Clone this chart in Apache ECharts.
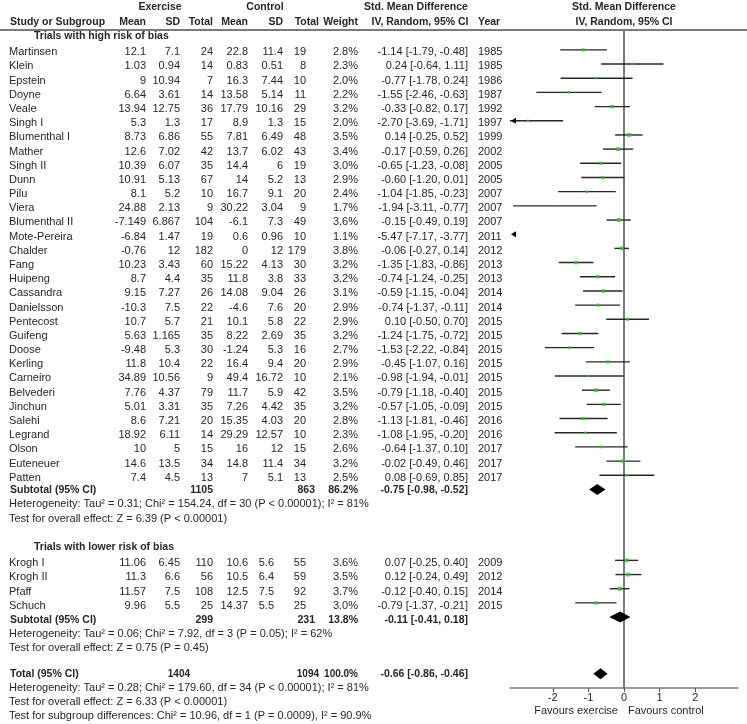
<!DOCTYPE html>
<html>
<head>
<meta charset="utf-8">
<script src="https://cdn.jsdelivr.net/npm/echarts@6/dist/echarts.min.js"></script>
<style>
html,body{margin:0;padding:0;background:#fff;}
#chart{width:747px;height:724px;}
</style>
</head>
<body>
<div id="chart"></div>
<script>
// ---------- DATA ----------
const highNames = ["Martinsen","Klein","Epstein","Doyne","Veale","Singh I","Blumenthal I","Mather","Singh II","Dunn","Pilu","Viera","Blumenthal II","Mote-Pereira","Chalder","Fang","Huipeng","Cassandra","Danielsson","Pentecost","Guifeng","Doose","Kerling","Carneiro","Belvederi","Jinchun","Salehi","Legrand","Olson","Euteneuer","Patten"];
const highExMean = [12.1,1.03,9,6.64,13.94,5.3,8.73,12.6,10.39,10.91,8.1,24.88,-7.149,-6.84,-0.76,10.23,8.7,9.15,-10.3,10.7,5.63,-9.48,11.8,34.89,7.76,5.01,8.6,18.92,10,14.6,7.4];
const highExSD = [7.1,0.94,10.94,3.61,12.75,1.3,6.86,7.02,6.07,5.13,5.2,2.13,6.867,1.47,12,3.43,4.4,7.27,7.5,5.7,1.165,5.3,10.4,10.56,4.37,3.31,7.21,6.11,5,13.5,4.5];
const highExN = [24,14,7,14,36,17,55,42,35,67,10,9,104,19,182,60,35,26,22,21,35,30,22,9,79,35,20,14,15,34,13];
const highCtMean = [22.8,0.83,16.3,13.58,17.79,8.9,7.81,13.7,14.4,14,16.7,30.22,-6.1,0.6,0,15.22,11.8,14.08,-4.6,10.1,8.22,-1.24,16.4,49.4,11.7,7.26,15.35,29.29,16,14.8,7];
const highCtSD = [11.4,0.51,7.44,5.14,10.16,1.3,6.49,6.02,6,5.2,9.1,3.04,7.3,0.96,12,4.13,3.8,9.04,7.6,5.8,2.69,5.3,9.4,16.72,5.9,4.42,4.03,12.57,12,11.4,5.1];
const highCtN = [19,8,10,11,29,15,48,43,19,13,20,9,49,10,179,30,33,26,20,22,35,16,20,10,42,35,20,10,15,34,13];
const highWeight = [2.8,2.3,2.0,2.2,3.2,2.0,3.5,3.4,3.0,2.9,2.4,1.7,3.6,1.1,3.8,3.2,3.2,3.1,2.9,2.9,3.2,2.7,2.9,2.1,3.5,3.2,2.8,2.3,2.6,3.2,2.5];
const highSMD = [-1.14,0.24,-0.77,-1.55,-0.33,-2.70,0.14,-0.17,-0.65,-0.60,-1.04,-1.94,-0.15,-5.47,-0.06,-1.35,-0.74,-0.59,-0.74,0.10,-1.24,-1.53,-0.45,-0.98,-0.79,-0.57,-1.13,-1.08,-0.64,-0.02,0.08];
const highLo = [-1.79,-0.64,-1.78,-2.46,-0.82,-3.69,-0.25,-0.59,-1.23,-1.20,-1.85,-3.11,-0.49,-7.17,-0.27,-1.83,-1.24,-1.15,-1.37,-0.50,-1.75,-2.22,-1.07,-1.94,-1.18,-1.05,-1.81,-1.95,-1.37,-0.49,-0.69];
const highHi = [-0.48,1.11,0.24,-0.63,0.17,-1.71,0.52,0.26,-0.08,0.01,-0.23,-0.77,0.19,-3.77,0.14,-0.86,-0.25,-0.04,-0.11,0.70,-0.72,-0.84,0.16,-0.01,-0.40,-0.09,-0.46,-0.20,0.10,0.46,0.85];
const highYear = [1985,1985,1986,1987,1992,1997,1999,2002,2005,2005,2007,2007,2007,2011,2012,2013,2013,2014,2014,2015,2015,2015,2015,2015,2015,2015,2016,2016,2017,2017,2017];

const lowNames = ["Krogh I","Krogh II","Pfaff","Schuch"];
const lowExMean = [11.06,11.3,11.57,9.96];
const lowExSD = [6.45,6.6,7.5,5.5];
const lowExN = [110,56,108,25];
const lowCtMean = [10.6,10.5,12.5,14.37];
const lowCtSD = [5.6,6.4,7.5,5.5];
const lowCtN = [55,59,92,25];
const lowWeight = [3.6,3.5,3.7,3.0];
const lowSMD = [0.07,0.12,-0.12,-0.79];
const lowLo = [-0.25,-0.24,-0.40,-1.37];
const lowHi = [0.40,0.49,0.15,-0.21];
const lowYear = [2009,2012,2014,2015];

// summaries: [estimate, lower, upper]
const summaryLabels = ["Subtotal (95% CI)","Subtotal (95% CI)","Total (95% CI)"];
const summaryEst = [-0.75,-0.11,-0.66];
const summaryLo = [-0.98,-0.41,-0.86];
const summaryHi = [-0.52,0.18,-0.46];
const summaryExN = [1105,299,1404];
const summaryCtN = [863,231,1094];
const summaryWeight = ["86.2%","13.8%","100.0%"];

const groupTitles = ["Trials with high risk of bias","Trials with lower risk of bias"];
const statsHigh = ["Heterogeneity: Tau\u00b2 = 0.31; Chi\u00b2 = 154.24, df = 30 (P < 0.00001); I\u00b2 = 81%","Test for overall effect: Z = 6.39 (P < 0.00001)"];
const statsLow = ["Heterogeneity: Tau\u00b2 = 0.06; Chi\u00b2 = 7.92, df = 3 (P = 0.05); I\u00b2 = 62%","Test for overall effect: Z = 0.75 (P = 0.45)"];
const statsTotal = ["Heterogeneity: Tau\u00b2 = 0.28; Chi\u00b2 = 179.60, df = 34 (P < 0.00001); I\u00b2 = 81%","Test for overall effect: Z = 6.33 (P < 0.00001)","Test for subgroup differences: Chi\u00b2 = 10.96, df = 1 (P = 0.0009), I\u00b2 = 90.9%"];

const xTicks = [-2,-1,0,1,2];
const xLabels = ["Favours exercise","Favours control"];

// ---------- LAYOUT ----------
const X_MIN = -3.2, X_MAX = 3.2;
const highRows = highNames.map((_, i) => i);          // 0..30
const sub1Row = 31;
const lowRows = lowNames.map((_, i) => 36 + i);       // 36..39
const sub2Row = 40;
const totalRow = 44;
const summaryRows = [sub1Row, sub2Row, totalRow];

const FONT = '"Liberation Sans", Arial, Helvetica, sans-serif';
const TXT = '#262626';

const ciData = [];
const ptData = [];
highNames.forEach((n, i) => { ciData.push([highLo[i], highHi[i], highRows[i]]); ptData.push([highSMD[i], highRows[i], highWeight[i]]); });
lowNames.forEach((n, i) => { ciData.push([lowLo[i], lowHi[i], lowRows[i]]); ptData.push([lowSMD[i], lowRows[i], lowWeight[i]]); });
const diaData = summaryEst.map((e, i) => [e, summaryLo[i], summaryHi[i], summaryRows[i]]);

const chart = echarts.init(document.getElementById('chart'), null, {renderer: 'canvas'});

const option = {
  animation: false,
  backgroundColor: '#fff',
  grid: {left: 510, top: 30, width: 228, height: 658},
  xAxis: {
    type: 'value', min: X_MIN, max: X_MAX,
    splitLine: {show: false},
    axisLine: {show: true, onZero: false, lineStyle: {color: '#7a7a7a', width: 1.5}},
    axisTick: {show: true, customValues: xTicks, length: 4, lineStyle: {color: '#555', width: 1}},
    axisLabel: {customValues: xTicks, color: TXT, fontSize: 11, fontFamily: FONT, margin: 4}
  },
  yAxis: {
    type: 'value', inverse: true, min: -1.4, max: 45,
    splitLine: {show: false},
    axisLine: {show: true, onZero: true, lineStyle: {color: '#7a7a7a', width: 2}},
    axisTick: {show: false},
    axisLabel: {show: false}
  },
  series: [
    {
      type: 'custom', name: 'ci', clip: false, z: 2,
      encode: {x: [0, 1], y: 2},
      data: ciData,
      renderItem: function (params, api) {
        const lo = api.value(0), hi = api.value(1), row = api.value(2);
        const y = api.coord([0, row])[1];
        const children = [];
        const a = Math.max(lo, X_MIN), b = Math.min(hi, X_MAX);
        if (a < b) {
          const p1 = api.coord([a, row]), p2 = api.coord([b, row]);
          children.push({type: 'line', shape: {x1: p1[0], y1: y, x2: p2[0], y2: y}, style: {stroke: '#262626', lineWidth: 1.4}});
        }
        if (lo < X_MIN) {
          const px = api.coord([X_MIN, row])[0] + 1;
          children.push({type: 'polygon', shape: {points: [[px, y], [px + 5, y - 3], [px + 5, y + 3]]}, style: {fill: '#000'}});
        }
        if (hi > X_MAX) {
          const px = api.coord([X_MAX, row])[0] - 1;
          children.push({type: 'polygon', shape: {points: [[px, y], [px - 5, y - 3], [px - 5, y + 3]]}, style: {fill: '#000'}});
        }
        return {type: 'group', children: children};
      }
    },
    {
      type: 'scatter', name: 'smd', clip: true, z: 3,
      symbol: 'rect',
      symbolSize: function (v) { return Math.max(2, v[2] * 1.1); },
      itemStyle: {color: '#2fc42f'},
      data: ptData
    },
    {
      type: 'custom', name: 'diamond', clip: false, z: 4,
      encode: {x: [0, 1, 2], y: 3},
      data: diaData,
      renderItem: function (params, api) {
        const e = api.value(0), lo = api.value(1), hi = api.value(2), row = api.value(3);
        const pe = api.coord([e, row]), pl = api.coord([lo, row]), ph = api.coord([hi, row]);
        const h = 5.5;
        return {type: 'polygon', shape: {points: [[pl[0], pl[1]], [pe[0], pe[1] - h], [ph[0], ph[1]], [pe[0], pe[1] + h]]}, style: {fill: '#000'}};
      }
    }
  ]
};
chart.setOption(option);

// ---------- TABLE TEXT ----------
const rowPx = r => chart.convertToPixel({yAxisIndex: 0}, r);
const xPx = v => chart.convertToPixel({xAxisIndex: 0}, v);
const G = [];
function T(x, y, s, align, bold, size) {
  const fs = size || (bold ? 10.5 : 11);
  G.push({
    type: 'text', x: x, y: y, silent: true,
    style: {
      text: String(s), fill: TXT,
      font: (bold ? 'bold ' : '') + fs + 'px ' + FONT,
      align: align || 'left', textAlign: align || 'left',
      verticalAlign: 'middle', textVerticalAlign: 'middle'
    }
  });
}
const C = {name: 9, exMean: 146, exSD: 180, exN: 213, ctMean: 248, ctSD: 283, ctN: 306, w: 358, ci: 468, year: 478};
const ciStr = (e, l, h) => e.toFixed(2) + ' [' + l.toFixed(2) + ', ' + h.toFixed(2) + ']';

// header
const yH1 = rowPx(-3.03), yH2 = rowPx(-1.95);
T(160, yH1, 'Exercise', 'center', true);
T(265, yH1, 'Control', 'center', true);
T(416, yH1, 'Std. Mean Difference', 'center', true);
T(624, yH1, 'Std. Mean Difference', 'center', true);
T(10, yH2, 'Study or Subgroup', 'left', true);
T(C.exMean, yH2, 'Mean', 'right', true);
T(C.exSD, yH2, 'SD', 'right', true);
T(C.exN, yH2, 'Total', 'right', true);
T(C.ctMean, yH2, 'Mean', 'right', true);
T(C.ctSD, yH2, 'SD', 'right', true);
T(319, yH2, 'Total', 'right', true);
T(C.w, yH2, 'Weight', 'right', true);
T(420, yH2, 'IV, Random, 95% CI', 'center', true);
T(C.year, yH2, 'Year', 'left', true);
T(624, yH2, 'IV, Random, 95% CI', 'center', true);
G.push({type: 'line', silent: true, shape: {x1: 0, y1: rowPx(-1.4), x2: 747, y2: rowPx(-1.4)}, style: {stroke: '#7a7a7a', lineWidth: 2}});

// group 1
T(34, rowPx(-0.98), groupTitles[0], 'left', true);
highNames.forEach((n, i) => {
  const y = rowPx(highRows[i] + 0.17);
  T(C.name, y, n);
  T(C.exMean, y, highExMean[i], 'right');
  T(C.exSD, y, highExSD[i], 'right');
  T(C.exN, y, highExN[i], 'right');
  T(C.ctMean, y, highCtMean[i], 'right');
  T(C.ctSD, y, highCtSD[i], 'right');
  T(C.ctN, y, highCtN[i], 'right');
  T(C.w, y, highWeight[i].toFixed(1) + '%', 'right');
  T(C.ci, y, ciStr(highSMD[i], highLo[i], highHi[i]), 'right');
  T(C.year, y, highYear[i]);
});
function summaryRowText(k, yRow, nxRight, ncRight, numSize) {
  const y = rowPx(yRow);
  T(10, y, summaryLabels[k], 'left', true);
  T(nxRight, y, summaryExN[k], 'right', true, numSize);
  T(ncRight, y, summaryCtN[k], 'right', true, numSize);
  T(C.w, y, summaryWeight[k], 'right', true, numSize);
  T(C.ci, y, ciStr(summaryEst[k], summaryLo[k], summaryHi[k]), 'right', true);
}
summaryRowText(0, sub1Row + 0.08, 213, 315);
T(C.name, rowPx(32.05), statsHigh[0]);
T(C.name, rowPx(33.05), statsHigh[1]);

// group 2
T(34, rowPx(35.05), groupTitles[1], 'left', true);
lowNames.forEach((n, i) => {
  const y = rowPx(lowRows[i] + 0.2);
  T(C.name, y, n);
  T(C.exMean, y, lowExMean[i], 'right');
  T(C.exSD, y, lowExSD[i], 'right');
  T(C.exN, y, lowExN[i], 'right');
  T(C.ctMean, y, lowCtMean[i], 'right');
  T(274, y, lowCtSD[i], 'right');
  T(C.ctN, y, lowCtN[i], 'right');
  T(C.w, y, lowWeight[i].toFixed(1) + '%', 'right');
  T(C.ci, y, ciStr(lowSMD[i], lowLo[i], lowHi[i]), 'right');
  T(C.year, y, lowYear[i]);
});
summaryRowText(1, sub2Row + 0.2, 213, 315);
T(C.name, rowPx(41.2), statsLow[0]);
T(C.name, rowPx(42.2), statsLow[1]);

// total
summaryRowText(2, totalRow, 190, 319, 10);
T(C.name, rowPx(45.0), statsTotal[0]);
T(C.name, rowPx(45.95), statsTotal[1]);
T(C.name, rowPx(46.97), statsTotal[2]);

// favours labels
const yFav = rowPx(45) + 23;
T(xPx(-0.17), yFav, xLabels[0], 'right');
T(xPx(0.11), yFav, xLabels[1], 'left');

chart.setOption({graphic: {elements: G}});
</script>
</body>
</html>
